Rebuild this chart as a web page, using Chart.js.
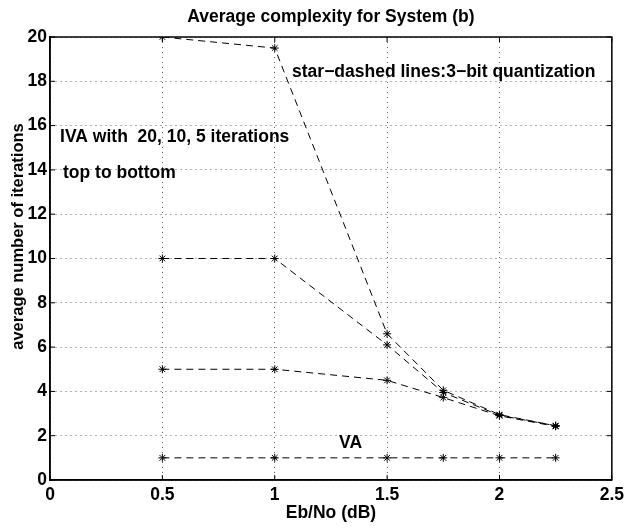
<!DOCTYPE html>
<html>
<head>
<meta charset="utf-8">
<title>Average complexity for System (b)</title>
<script src="https://cdn.jsdelivr.net/npm/chart.js@4"></script>
<style>
  body { margin: 0; background: #fff; }
</style>
</head>
<body>
<canvas id="complexityChart" width="629" height="531"></canvas>
<script>
// Eb/No (dB) valores del eje x
const ebno = [0.5, 1, 1.5, 1.75, 2, 2.25];

// IVA con 20, 10 y 5 iteraciones (cuantizacion de 3 bits)
const iva20 = [20, 19.5, 6.6, 4.05, 2.95, 2.45];
const iva10 = [10, 10, 6.1, 3.95, 2.92, 2.45];
const iva5 = [5, 5, 4.5, 3.72, 2.9, 2.42];
// VA
const va = [1, 1, 1, 1, 1, 1];

const xTicks = [0, 0.5, 1, 1.5, 2, 2.5];
const yTicks = [0, 2, 4, 6, 8, 10, 12, 14, 16, 18, 20];

const titulo = 'Average complexity for System (b)';
const tituloY = 'average number of iterations';

// textos dentro del grafico (coordenadas en unidades de datos)
const notas = [
    { text: 'star\u2212dashed lines:3\u2212bit quantization', x: 1.077, y: 18.43 },
    { text: 'IVA with  20, 10, 5 iterations', x: 0.045, y: 15.49 },
    { text: 'top to bottom', x: 0.058, y: 13.86 },
    { text: 'VA', x: 1.286, y: 1.67 }
];

const FONT = 'Liberation Sans, Arial, Helvetica, sans-serif';
const SIZE = 17.5;

function serie(valores) {
    return {
        data: ebno.map((x, i) => ({ x: x, y: valores[i] })),
        borderColor: '#000',
        borderWidth: 1,
        borderDash: [7, 5],
        pointStyle: 'star',
        pointRadius: 4,
        pointHoverRadius: 4,
        pointBorderColor: '#000',
        pointBorderWidth: 1,
        fill: false,
        tension: 0
    };
}

// marco completo, marcas interiores, titulos y textos
const marcoPlugin = {
    id: 'marco',
    afterDraw(chart) {
        const ctx = chart.ctx;
        const a = chart.chartArea;
        const xs = chart.scales.x;
        const ys = chart.scales.y;
        ctx.save();
        ctx.strokeStyle = '#000';
        ctx.lineWidth = 1;
        ctx.beginPath();
        xTicks.forEach(v => {
            const px = xs.getPixelForValue(v);
            ctx.moveTo(px, a.bottom); ctx.lineTo(px, a.bottom - 5);
            ctx.moveTo(px, a.top); ctx.lineTo(px, a.top + 5);
        });
        yTicks.forEach(v => {
            const py = ys.getPixelForValue(v);
            ctx.moveTo(a.left, py); ctx.lineTo(a.left + 5, py);
            ctx.moveTo(a.right, py); ctx.lineTo(a.right - 5, py);
        });
        ctx.stroke();
        ctx.lineWidth = 1.5;
        ctx.strokeRect(a.left, a.top, a.right - a.left, a.bottom - a.top);

        ctx.fillStyle = '#000';
        ctx.font = 'bold ' + SIZE + 'px ' + FONT;
        ctx.textBaseline = 'middle';
        ctx.textAlign = 'center';
        ctx.fillText(titulo, (a.left + a.right) / 2, 17);
        ctx.textAlign = 'left';
        notas.forEach(n => {
            ctx.fillText(n.text, xs.getPixelForValue(n.x), ys.getPixelForValue(n.y));
        });

        // titulo del eje y, algo por encima del centro como en el original
        ctx.save();
        ctx.translate(18, (a.top + a.bottom) / 2 - 22);
        ctx.rotate(-Math.PI / 2);
        ctx.textAlign = 'center';
        ctx.font = 'bold 16.5px ' + FONT;
        ctx.fillText(tituloY, 0, 0);
        ctx.restore();
        ctx.restore();
    }
};

const ctx = document.getElementById('complexityChart').getContext('2d');
const complexityChart = new Chart(ctx, {
    type: 'line',
    data: {
        datasets: [serie(iva20), serie(iva10), serie(iva5), serie(va)]
    },
    options: {
        responsive: false,
        animation: false,
        events: [],
        layout: { padding: { top: 37, right: 17, bottom: 0, left: 0 } },
        plugins: {
            legend: { display: false },
            tooltip: { enabled: false },
            title: { display: false }
        },
        scales: {
            x: {
                type: 'linear',
                min: 0,
                max: 2.5,
                afterBuildTicks: s => { s.ticks = xTicks.map(v => ({ value: v })); },
                afterFit: s => { s.height = 51; },
                ticks: {
                    color: '#000',
                    padding: 5,
                    maxRotation: 0,
                    callback: v => String(v),
                    font: { family: FONT, size: SIZE, weight: 'bold' }
                },
                grid: { color: '#666', lineWidth: 1, drawTicks: false },
                border: { display: true, color: '#000', width: 1.5, dash: [1, 4] },
                title: {
                    display: true,
                    text: 'Eb/No (dB)',
                    color: '#000',
                    font: { family: FONT, size: SIZE, weight: 'bold' },
                    padding: { top: 0, bottom: 7 }
                }
            },
            y: {
                min: 0,
                max: 20,
                afterBuildTicks: s => { s.ticks = yTicks.map(v => ({ value: v })); },
                afterFit: s => { s.width = 50; },
                ticks: {
                    color: '#000',
                    padding: 3,
                    callback: v => String(v),
                    font: { family: FONT, size: SIZE, weight: 'bold' }
                },
                grid: { color: '#666', lineWidth: 1, drawTicks: false },
                border: { display: true, color: '#000', width: 1.5, dash: [1, 4] },
                title: { display: false }
            }
        }
    },
    plugins: [marcoPlugin]
});
</script>
</body>
</html>
